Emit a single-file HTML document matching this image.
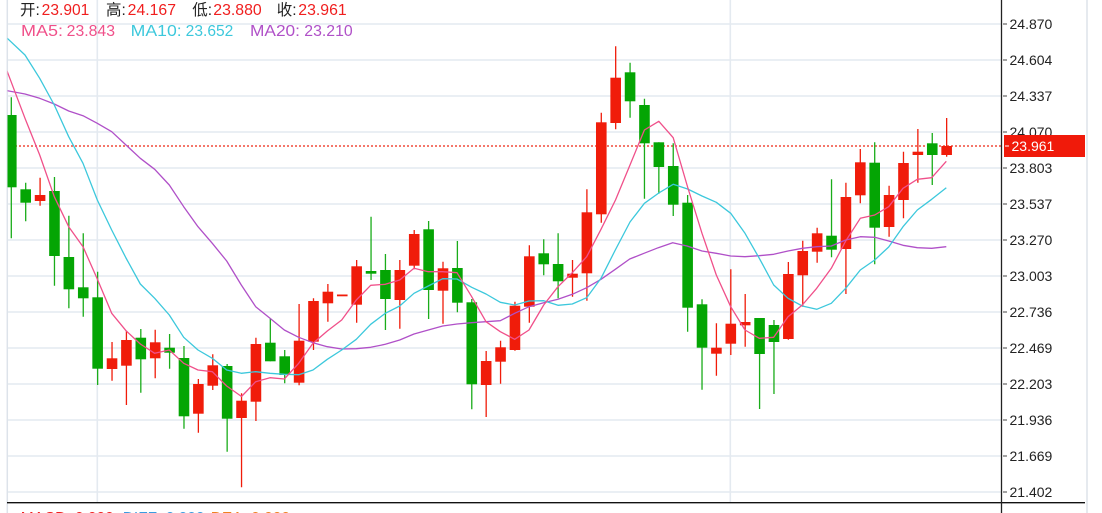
<!DOCTYPE html>
<html><head><meta charset="utf-8"><style>
html,body{margin:0;padding:0;background:#fff;width:1102px;height:513px;overflow:hidden}
svg{display:block}
text{font-family:"Liberation Sans","Noto Sans CJK SC",sans-serif}
</style></head><body>
<svg width="1102" height="513" viewBox="0 0 1102 513" xmlns="http://www.w3.org/2000/svg">
<defs><clipPath id="c"><rect x="7.5" y="0" width="993.5" height="503"/></clipPath></defs>
<rect width="1102" height="513" fill="#fff"/>
<g stroke="#e4eaf0" stroke-width="1.6">
<path d="M7 24H1001M7 60H1001M7 96H1001M7 132H1001M7 168H1001M7 204H1001M7 240H1001M7 276H1001M7 312H1001M7 348H1001M7 384H1001M7 420H1001M7 456H1001M7 492H1001"/>
<path d="M97.3 0V503M730.3 0V503"/>
</g>
<path d="M7.3 0V513M1087 0V513" stroke="#dde3ea" stroke-width="1.5"/>
<g clip-path="url(#c)">
<path d="M7 146H1001" stroke="#f04a3a" stroke-width="1.5" stroke-dasharray="2 2"/>
<g stroke="#f01c0a" stroke-width="1.3" fill="none">
<path d="M40.08 177.7V205.7M112.03 342V380.7M126.42 330.7V405M155.2 329.7V378.3M198.37 379V432.7M212.76 354.3V390M241.54 393.3V487.3M255.93 337.7V421M299.1 304V385.3M313.49 298.3V350M327.88 284V321.7M356.66 260V322.7M399.83 260V328.7M414.22 230V269.3M443 261.7V323.7M486.17 351V417M500.56 340.7V383.7M514.95 301.7V350.7M529.34 245.3V322.7M572.51 260V296.7M586.9 189.3V300.7M601.29 112.7V222.7M615.68 46.3V129.3M716.41 323.3V375.7M730.8 269.3V355M745.19 294V346.7M788.36 262V339.7M802.75 240.7V306.7M817.14 227.7V262.7M845.92 182.7V294M860.31 149V203.3M889.09 185.7V236.7M903.48 151.7V218.3M917.87 129V182.7M946.65 118V156.7"/>
</g>
<g fill="#f01c0a">
<rect x="34.78" y="195" width="10.6" height="6"/>
<rect x="106.73" y="358.3" width="10.6" height="10.7"/>
<rect x="121.12" y="340" width="10.6" height="25.7"/>
<rect x="149.9" y="342.3" width="10.6" height="16"/>
<rect x="193.07" y="384" width="10.6" height="29.7"/>
<rect x="207.46" y="365.3" width="10.6" height="20.4"/>
<rect x="236.24" y="400.7" width="10.6" height="17.3"/>
<rect x="250.63" y="344" width="10.6" height="57.7"/>
<rect x="293.8" y="340.7" width="10.6" height="42"/>
<rect x="308.19" y="301" width="10.6" height="40.7"/>
<rect x="322.58" y="291.7" width="10.6" height="11.6"/>
<rect x="336.97" y="294.5" width="10.6" height="1.8"/>
<rect x="351.36" y="266.3" width="10.6" height="38.4"/>
<rect x="394.53" y="270" width="10.6" height="30"/>
<rect x="408.92" y="234" width="10.6" height="31.7"/>
<rect x="437.7" y="268.3" width="10.6" height="22.4"/>
<rect x="480.87" y="361" width="10.6" height="24"/>
<rect x="495.26" y="347.3" width="10.6" height="14.4"/>
<rect x="509.65" y="305.7" width="10.6" height="44.3"/>
<rect x="524.04" y="256.3" width="10.6" height="50.4"/>
<rect x="567.21" y="273.7" width="10.6" height="4"/>
<rect x="581.6" y="212.3" width="10.6" height="61"/>
<rect x="595.99" y="122.3" width="10.6" height="92"/>
<rect x="610.38" y="77.7" width="10.6" height="45.3"/>
<rect x="711.11" y="347.7" width="10.6" height="6"/>
<rect x="725.5" y="323.7" width="10.6" height="20"/>
<rect x="739.89" y="322" width="10.6" height="3.3"/>
<rect x="783.06" y="274" width="10.6" height="65"/>
<rect x="797.45" y="251" width="10.6" height="24.3"/>
<rect x="811.84" y="233.3" width="10.6" height="18.4"/>
<rect x="840.62" y="197" width="10.6" height="52"/>
<rect x="855.01" y="162.3" width="10.6" height="33"/>
<rect x="883.79" y="195" width="10.6" height="32"/>
<rect x="898.18" y="163" width="10.6" height="37"/>
<rect x="912.57" y="151.7" width="10.6" height="3.3"/>
<rect x="941.35" y="146" width="10.6" height="9"/>
</g>
<g stroke="#1aac1a" stroke-width="1.3" fill="none">
<path d="M11.3 97.3V238.3M25.69 182.7V221.3M54.47 177V285.7M68.86 215.7V308.3M83.25 233.3V316.7M97.64 271.7V385M140.81 329V392.7M169.59 334V368.7M183.98 346V428.7M227.15 364V451.7M270.32 318.3V361.3M284.71 350V383.3M371.05 216.7V280M385.44 254V330M428.61 221V319M457.39 241V312.3M471.78 299V409.3M543.73 239.3V275.3M558.12 233.3V298.3M630.07 62.7V117.7M644.46 98.7V198.7M658.85 142.3V193.7M673.24 143.3V216M687.63 195V331.7M702.02 299.3V389.7M759.58 318V409M773.97 320V394M831.53 179.3V257.3M874.7 142.3V264.3M932.26 133V185"/>
</g>
<g fill="#04a504">
<rect x="6" y="115" width="10.6" height="72.3"/>
<rect x="20.39" y="189.3" width="10.6" height="13.4"/>
<rect x="49.17" y="191" width="10.6" height="65"/>
<rect x="63.56" y="257" width="10.6" height="32.3"/>
<rect x="77.95" y="287.3" width="10.6" height="11"/>
<rect x="92.34" y="297.3" width="10.6" height="71.4"/>
<rect x="135.51" y="337.7" width="10.6" height="21.6"/>
<rect x="164.29" y="347.7" width="10.6" height="5"/>
<rect x="178.68" y="358" width="10.6" height="58.3"/>
<rect x="221.85" y="366" width="10.6" height="52.7"/>
<rect x="265.02" y="342.7" width="10.6" height="18.6"/>
<rect x="279.41" y="356.3" width="10.6" height="18.7"/>
<rect x="365.75" y="271" width="10.6" height="2.7"/>
<rect x="380.14" y="270" width="10.6" height="29"/>
<rect x="423.31" y="229.3" width="10.6" height="60.7"/>
<rect x="452.09" y="268" width="10.6" height="34.7"/>
<rect x="466.48" y="302.3" width="10.6" height="82"/>
<rect x="538.43" y="253.3" width="10.6" height="11"/>
<rect x="552.82" y="264" width="10.6" height="17.3"/>
<rect x="624.77" y="72.3" width="10.6" height="29"/>
<rect x="639.16" y="105" width="10.6" height="38.3"/>
<rect x="653.55" y="142.3" width="10.6" height="24.7"/>
<rect x="667.94" y="166" width="10.6" height="38.7"/>
<rect x="682.33" y="202.7" width="10.6" height="105"/>
<rect x="696.72" y="304.3" width="10.6" height="43.4"/>
<rect x="754.28" y="318" width="10.6" height="36"/>
<rect x="768.67" y="325" width="10.6" height="17"/>
<rect x="826.23" y="235.7" width="10.6" height="14"/>
<rect x="869.4" y="162.7" width="10.6" height="65"/>
<rect x="926.96" y="143.3" width="10.6" height="11.7"/>
</g>
<g fill="none" stroke-width="1.3" stroke-linejoin="round">
<polyline stroke="#b050c8" points="0,89 7.3,90.7 25,94 39.7,98.3 54.3,104 68.7,111 83,115.7 97.3,123.3 111.7,131.7 126,145 140.3,158.3 154.7,169.3 169.3,185 183.7,206.7 198,226.7 212.3,243.3 226.7,261 241.3,285 255.7,306.7 270,318.3 284.3,330 298.7,337.3 313,342.7 327.3,346.7 341.7,349 356.3,348.7 370.7,347.3 385.3,344.3 399.7,340 414,334 428.3,330 442.7,326 457,324 471.7,322.7 486,321.7 500.3,320.7 514.7,313.3 529,306.7 543.7,302.7 558,299.3 572.3,294.3 586.7,287.7 601,279.3 615.3,269.3 629.7,259 644,253.3 658.3,247.7 672.7,242.7 687,246 702,251 716.3,253.3 730.7,256 745,256.7 759.3,255.7 773.7,254.3 788,251 802.3,248.3 816.7,246.7 831.3,246 845.7,240 860.3,236.7 874.7,237.3 888.7,241 903,245.3 917.3,247.7 931.7,248.3 946.3,246.7"/>
<polyline stroke="#3cc8dc" points="0,31 7.3,38.3 25,55 39.7,78.3 54.3,105 68.7,136.7 83,163.3 97.3,200 111.7,230 126,258 140.3,284 154.7,298.3 169.3,315 183.7,337.3 198,350 212.3,358.3 226.7,370 241.3,373.3 255.7,371.7 270,373.3 284.3,374.3 298.7,374.7 313,370 327.3,359.3 341.7,350 356.3,339.3 370.7,324.3 385.3,313.3 399.7,306 414,293.3 428.3,286 442.7,278.7 457,279 471.7,287.3 486,294 500.3,302.3 514.7,305 529,301 543.7,300.7 558,305.3 572.3,304 586.7,297.7 601,278.3 615.3,250 630,222 644.4,203.3 658.8,193 673.2,184.3 687.6,189 702,196 716.3,202.3 730.7,213.3 745,233.3 759.3,258.3 773.7,285 788,298.3 802.3,306 816.7,309.3 831.3,303.3 845.7,288.3 860.3,270 874.7,260 888.7,247 903,226.7 917.3,210 931.7,199.3 946.3,187.7"/>
<polyline stroke="#f0508a" points="0,52.5 7.3,71.7 25,118.3 39.7,155 54.3,196.7 68.7,226.7 83,246.7 97.3,279 111.7,313.3 126,330.7 140.3,344 154.7,353.3 169.3,350 183.7,363.3 198,370 212.3,371.7 226.7,386 241.5,396.5 255.7,381.7 270,377.7 284.3,379 298.7,363.3 313,343.3 327.3,331 341.7,320 356.3,300 370.7,285.3 385.3,284.3 399.7,280 414,268.3 428.3,271.7 442.7,271.7 457,272.7 471.7,296.7 486,321.7 500.3,331.7 514.7,339.3 529,330 543.7,305 558,286.7 572.3,272.7 586.7,256.7 601,229.3 615.5,200 630,165 644.4,130 658.8,121.3 673.2,137.7 687.6,187 702,233.3 716.3,275 730.7,306.7 745,330 759.3,338.3 773.7,337.3 788,316.7 802.3,305 816.7,288.3 831.3,268.3 845.7,241 860.3,218.3 874.7,215 888.7,206.7 903,188.3 917.3,179.3 931.7,177.7 946.3,161.3"/>
</g>
</g>
<path d="M7 502.7H1085" stroke="#111" stroke-width="1.3"/>
<path d="M1001.5 0V513" stroke="#222" stroke-width="1.3"/>
<g stroke="#444" stroke-width="1">
<path d="M1003 24H1007M1003 60H1007M1003 96H1007M1003 132H1007M1003 168H1007M1003 204H1007M1003 240H1007M1003 276H1007M1003 312H1007M1003 348H1007M1003 384H1007M1003 420H1007M1003 456H1007M1003 492H1007"/>
</g>
<g font-size="14" fill="#222">
<text x="1009.5" y="29">24.870</text>
<text x="1009.5" y="65">24.604</text>
<text x="1009.5" y="101">24.337</text>
<text x="1009.5" y="137">24.070</text>
<text x="1009.5" y="173">23.803</text>
<text x="1009.5" y="209">23.537</text>
<text x="1009.5" y="245">23.270</text>
<text x="1009.5" y="281">23.003</text>
<text x="1009.5" y="317">22.736</text>
<text x="1009.5" y="353">22.469</text>
<text x="1009.5" y="389">22.203</text>
<text x="1009.5" y="425">21.936</text>
<text x="1009.5" y="461">21.669</text>
<text x="1009.5" y="497">21.402</text>
</g>
<rect x="1004" y="135" width="81" height="22" fill="#f01a0a"/>
<path d="M1005 146H1009" stroke="#fff" stroke-width="1"/>
<text x="1011.5" y="151" font-size="14" fill="#fff">23.961</text>
<g font-size="15.5">
<text x="20" y="15" fill="#222">开:</text>
<text x="41.7" y="15" fill="#f01e1e" textLength="47.6" lengthAdjust="spacingAndGlyphs">23.901</text>
<text x="106" y="15" fill="#222">高:</text>
<text x="127.7" y="15" fill="#f01e1e" textLength="48.3" lengthAdjust="spacingAndGlyphs">24.167</text>
<text x="192.3" y="15" fill="#222">低:</text>
<text x="213.3" y="15" fill="#f01e1e" textLength="48.4" lengthAdjust="spacingAndGlyphs">23.880</text>
<text x="276.7" y="15" fill="#222">收:</text>
<text x="298.3" y="15" fill="#f01e1e" textLength="48.4" lengthAdjust="spacingAndGlyphs">23.961</text>
<text x="21" y="36" fill="#f0508a" textLength="42" lengthAdjust="spacingAndGlyphs">MA5:</text>
<text x="66.7" y="36" fill="#f0508a" textLength="48.3" lengthAdjust="spacingAndGlyphs">23.843</text>
<text x="130.7" y="36" fill="#3cc8dc" textLength="51" lengthAdjust="spacingAndGlyphs">MA10:</text>
<text x="185.7" y="36" fill="#3cc8dc" textLength="47.6" lengthAdjust="spacingAndGlyphs">23.652</text>
<text x="250" y="36" fill="#b050c8" textLength="50" lengthAdjust="spacingAndGlyphs">MA20:</text>
<text x="304.3" y="36" fill="#b050c8" textLength="48.4" lengthAdjust="spacingAndGlyphs">23.210</text>
<text x="20.7" y="523" fill="#f01e1e">MACD: 0.000</text>
<text x="122.7" y="523" fill="#3a9be0">DIFF: 0.000</text>
<text x="210.7" y="523" fill="#f08020">DEA: 0.000</text>
</g>
</svg>
</body></html>
